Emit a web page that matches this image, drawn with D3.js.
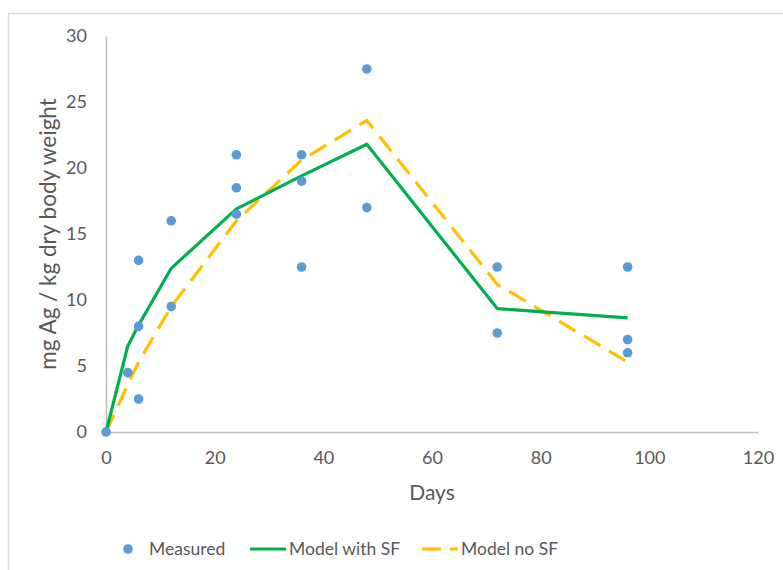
<!DOCTYPE html>
<html>
<head>
<meta charset="utf-8">
<script src="https://cdn.jsdelivr.net/npm/d3@7"></script>
<style>
  body { margin: 0; background: #fff; }
  text { font-family: Lato, "Open Sans", sans-serif; fill: #595959; }
</style>
</head>
<body>
<svg id="chart" width="783" height="570"></svg>
<script>
// measured samples
const measuredDays = [0, 4, 6, 6, 6, 12, 12, 24, 24, 24, 36, 36, 36, 48, 48, 72, 72, 96, 96, 96];
const measuredValues = [0, 4.5, 2.5, 8, 13, 9.5, 16, 16.5, 18.5, 21, 12.5, 19, 21, 17, 27.5, 7.5, 12.5, 6, 7, 12.5];

// model curves
const modelDays = [0, 4, 6, 12, 24, 36, 48, 72, 96];
const modelWithSF = [0, 6.5, 8.1, 12.4, 16.9, 19.4, 21.8, 9.35, 8.65];
const modelNoSF = [0, 3.6, 5.3, 9.5, 16.0, 20.6, 23.6, 11.2, 5.3];

const xTicks = [0, 20, 40, 60, 80, 100, 120];
const yTicks = [0, 5, 10, 15, 20, 25, 30];

const svg = d3.select("#chart");

// outer frame
svg.append("rect")
  .attr("x", 8.5).attr("y", 13.5)
  .attr("width", 780).attr("height", 570)
  .attr("fill", "none")
  .attr("stroke", "#d9d9d9")
  .attr("stroke-width", 1.5);

const x = d3.scaleLinear().domain([0, 120]).range([106, 758]);
const y = d3.scaleLinear().domain([0, 30]).range([432, 36]);

const xAxis = svg.append("g")
  .attr("transform", `translate(0,${y(0)})`)
  .call(d3.axisBottom(x).tickValues(xTicks).tickSize(0).tickPadding(19));

const yAxis = svg.append("g")
  .attr("transform", `translate(${x(0)},0)`)
  .call(d3.axisLeft(y).tickValues(yTicks).tickSize(0).tickPadding(19));

[xAxis, yAxis].forEach(a => {
  a.select(".domain").attr("stroke", "#bfbfbf").attr("stroke-width", 1.5);
  a.selectAll("text").attr("font-size", 18).attr("fill", "#595959")
    .style("font-family", "Lato, 'Open Sans', sans-serif");
});

// axis titles
svg.append("text")
  .attr("x", 432).attr("y", 500)
  .attr("text-anchor", "middle")
  .attr("font-size", 21)
  .text("Days");

svg.append("text")
  .attr("transform", `translate(56,${(y(0) + y(30)) / 2}) rotate(-90)`)
  .attr("text-anchor", "middle")
  .attr("font-size", 22.5)
  .text("mg Ag / kg dry body weight");

const line = d3.line()
  .x((d, i) => x(modelDays[i]))
  .y(d => y(d));

svg.append("path")
  .datum(modelNoSF)
  .attr("d", line)
  .attr("fill", "none")
  .attr("stroke", "#ffc000")
  .attr("stroke-width", 3.2)
  .attr("stroke-dasharray", "19,10");

svg.append("path")
  .datum(modelWithSF)
  .attr("d", line)
  .attr("fill", "none")
  .attr("stroke", "#00b050")
  .attr("stroke-width", 3.2)
  .attr("stroke-linejoin", "round");

svg.selectAll("circle.meas")
  .data(measuredValues)
  .enter()
  .append("circle")
  .attr("class", "meas")
  .attr("cx", (d, i) => x(measuredDays[i]))
  .attr("cy", d => y(d))
  .attr("r", 4.8)
  .attr("fill", "#5b9bd5");

// legend
const leg = svg.append("g").attr("transform", "translate(0,549)");
leg.append("circle").attr("cx", 128).attr("cy", 0).attr("r", 4.8).attr("fill", "#5b9bd5");
leg.append("text").attr("x", 149).attr("y", 6).attr("font-size", 17.5).text("Measured");

leg.append("line").attr("x1", 250).attr("x2", 286).attr("y1", 0).attr("y2", 0)
  .attr("stroke", "#00b050").attr("stroke-width", 3.2);
leg.append("text").attr("x", 289).attr("y", 6).attr("font-size", 17.5).text("Model with SF");

leg.append("line").attr("x1", 422).attr("x2", 458).attr("y1", 0).attr("y2", 0)
  .attr("stroke", "#ffc000").attr("stroke-width", 3.2)
  .attr("stroke-dasharray", "19,9");
leg.append("text").attr("x", 461).attr("y", 6).attr("font-size", 17.5).text("Model no SF");
</script>
</body>
</html>
